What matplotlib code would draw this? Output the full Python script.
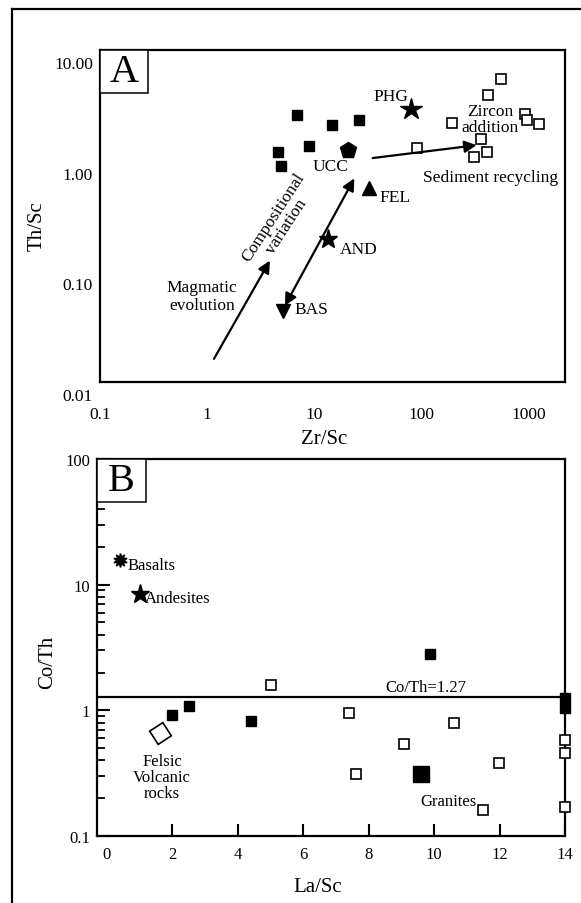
import matplotlib
matplotlib.use("Agg")
import matplotlib.pyplot as plt
import matplotlib.transforms as mtransforms
from matplotlib.lines import Line2D
from matplotlib.patches import Rectangle
from matplotlib.ticker import LogLocator, NullFormatter, FixedLocator

plt.rcParams['font.family'] = ['Liberation Serif', 'DejaVu Serif']

# ---------------- Panel A data: Th/Sc vs Zr/Sc ----------------
a_fill_x = [6.9, 14.6, 26.2, 4.6, 4.9, 9.0]
a_fill_y = [2.58, 2.10, 2.33, 1.21, 0.89, 1.35]
a_open_x = [555, 423, 192, 929, 977, 1257, 361, 91, 308, 410]
a_open_y = [5.5, 3.9, 2.17, 2.64, 2.35, 2.14, 1.57, 1.30, 1.09, 1.19]
a_ref_names = ['UCC', 'FEL', 'AND', 'BAS', 'PHG']
a_ref_x = [20.8, 32.5, 13.5, 5.1, 81]
a_ref_y = [1.26, 0.57, 0.196, 0.044, 2.92]
a_xticks = [0.1, 1, 10, 100, 1000]
a_xticklabels = ['0.1', '1', '10', '100', '1000']
a_yticks = [0.01, 0.1, 1, 10]
a_yticklabels = ['0.01', '0.10', '1.00', '10.00']

# ---------------- Panel B data: Co/Th vs La/Sc ----------------
b_fill_x = [2.0, 2.5, 4.41, 9.86, 14, 14]
b_fill_y = [0.91, 1.09, 0.82, 2.81, 1.25, 1.05]
b_open_x = [5.03, 7.41, 10.61, 9.07, 11.98, 7.60, 11.48, 14, 14, 14]
b_open_y = [1.6, 0.96, 0.79, 0.54, 0.38, 0.31, 0.16, 0.58, 0.455, 0.171]
b_ref_names = ['Basalts', 'Andesites', 'Felsic Volcanic rocks', 'Granites']
b_ref_x = [0.4, 1.0, 1.62, 9.6]
b_ref_y = [15.7, 8.4, 0.665, 0.314]
b_threshold = 1.27
b_xticks = [0, 2, 4, 6, 8, 10, 12, 14]
b_yticks = [0.1, 1, 10, 100]
b_yticklabels = ['0.1', '1', '10', '100']

W, H = 581, 904
fig = plt.figure(figsize=(W / 100, H / 100), dpi=100)


def px_axes(l, t, r, b):
    return fig.add_axes([l / W, 1 - b / H, (r - l) / W, (b - t) / H])


# outer frame (only top and left visible)
fig.add_artist(Line2D([12 / W, 1.0], [1 - 10 / H, 1 - 10 / H], color='black', lw=1.6))
fig.add_artist(Line2D([12 / W, 12 / W], [1 - 10 / H, 0.0], color='black', lw=1.6))

FS = 12.5

# ================= Panel A =================
ax = px_axes(100, 51, 565, 383)
ax.set_xscale('log')
ax.set_yscale('log')
ax.set_xlim(0.1, 2200)
ax.set_ylim(0.01, 10)
for s in ax.spines.values():
    s.set_linewidth(1.6)

ax.plot(a_fill_x, a_fill_y, 's', color='black', ms=7.5, ls='none')
ax.plot(a_open_x, a_open_y, 's', mfc='white', mec='black', mew=1.2, ms=7, ls='none')

ref_markers = {'UCC': ('p', 12), 'FEL': ('^', 10), 'AND': ('*', 14), 'BAS': ('v', 10), 'PHG': ('*', 16)}
for n, x, y in zip(a_ref_names, a_ref_x, a_ref_y):
    m, ms = ref_markers[n]
    ax.plot([x], [y], m, color='black', ms=ms, ls='none')

ax.text(14.1, 0.89, 'UCC', ha='center', va='center', fontsize=FS)
ax.text(41, 0.47, 'FEL', ha='left', va='center', fontsize=FS)
ax.text(17.4, 0.159, 'AND', ha='left', va='center', fontsize=FS)
ax.text(6.6, 0.0456, 'BAS', ha='left', va='center', fontsize=FS)
ax.text(52, 3.86, 'PHG', ha='center', va='center', fontsize=FS)

ap = dict(arrowstyle='-|>', color='black', lw=1.6, mutation_scale=18, shrinkA=0, shrinkB=0)
ax.annotate('', xy=(3.86, 0.125), xytext=(1.16, 0.0162), arrowprops=ap)
ap2 = dict(arrowstyle='<|-|>', color='black', lw=1.6, mutation_scale=18, shrinkA=0, shrinkB=0)
ax.annotate('', xy=(23.7, 0.692), xytext=(5.33, 0.0489), arrowprops=ap2)
ax.annotate('', xy=(329, 1.38), xytext=(35.2, 1.056), arrowprops=ap)

ax.text(0.895, 0.0598, 'Magmatic\nevolution', ha='center', va='center', fontsize=FS, linespacing=1.1)
ax.text(4.8, 0.284, 'Compositional\nvariation', ha='center', va='center', fontsize=FS,
        rotation=57, rotation_mode='anchor', linespacing=1.0)
ax.text(438, 2.38, 'Zircon\naddition', ha='center', va='center', fontsize=FS, linespacing=1.0)
ax.text(445, 0.711, 'Sediment recycling', ha='center', va='center', fontsize=FS)

ax.xaxis.set_major_locator(FixedLocator(a_xticks))
ax.set_xticklabels(a_xticklabels)
ax.yaxis.set_major_locator(FixedLocator(a_yticks))
ax.set_yticklabels(a_yticklabels)
ax.xaxis.set_minor_locator(FixedLocator([]))
ax.yaxis.set_minor_locator(FixedLocator([]))
ax.xaxis.set_minor_formatter(NullFormatter())
ax.yaxis.set_minor_formatter(NullFormatter())
ax.tick_params(axis='both', which='both', length=0, labelsize=FS)
ax.tick_params(axis='x', pad=17)
ax.tick_params(axis='y', pad=5)
off = mtransforms.ScaledTranslation(0, -12 / 100, fig.dpi_scale_trans)
for lab in ax.get_yticklabels():
    lab.set_transform(lab.get_transform() + off)

ax.add_patch(Rectangle((0, 1 - 43 / 332), 48 / 465, 43 / 332, transform=ax.transAxes,
                       facecolor='white', edgecolor='black', lw=1.1, zorder=5))
ax.text(24 / 465, 1 - 21.5 / 332, 'A', transform=ax.transAxes, ha='center', va='center',
        fontsize=29, zorder=6)

fig.text(324 / W, 1 - 440 / H, 'Zr/Sc', ha='center', va='center', fontsize=15)
fig.text(37 / W, 1 - 226 / H, 'Th/Sc', ha='center', va='center', fontsize=15, rotation=90)

# ================= Panel B =================
bx = px_axes(97, 460, 565, 837)
bx.set_yscale('log')
bx.set_xlim(-0.3, 14)
bx.set_ylim(0.1, 100)
for s in bx.spines.values():
    s.set_linewidth(1.6)

bx.axhline(b_threshold, color='black', lw=1.6, zorder=2)
bx.text(9.75, b_threshold * 1.04, 'Co/Th=' + str(b_threshold), ha='center', va='bottom', fontsize=12)

bx.plot(b_fill_x, b_fill_y, 's', color='black', ms=7.5, ls='none', clip_on=False, zorder=4)
bx.plot(b_open_x, b_open_y, 's', mfc='white', mec='black', mew=1.2, ms=7, ls='none',
        clip_on=False, zorder=4)

bx.plot([b_ref_x[0]], [b_ref_y[0]], marker=(10, 1, 0), color='black', ms=10, ls='none')
bx.plot([b_ref_x[1]], [b_ref_y[1]], '*', color='black', ms=14, ls='none')
bx.plot([b_ref_x[2]], [b_ref_y[2]], marker=(4, 0, -12), mfc='white', mec='black', mew=1.2,
        ms=16, ls='none')
bx.plot([b_ref_x[3]], [b_ref_y[3]], 's', color='black', ms=12, ls='none')

bx.text(0.62, 14.3, 'Basalts', ha='left', va='center', fontsize=12)
bx.text(1.16, 7.8, 'Andesites', ha='left', va='center', fontsize=12)
bx.text(1.69, 0.293, 'Felsic\nVolcanic\nrocks', ha='center', va='center', fontsize=12, linespacing=1.0)
bx.text(10.44, 0.189, 'Granites', ha='center', va='center', fontsize=12)

bx.xaxis.set_major_locator(FixedLocator(b_xticks))
bx.yaxis.set_major_locator(FixedLocator(b_yticks))
bx.set_yticklabels(b_yticklabels)
bx.yaxis.set_minor_locator(LogLocator(base=10, subs=[2, 3, 4, 5, 6, 7, 8, 9]))
bx.yaxis.set_minor_formatter(NullFormatter())
bx.tick_params(axis='both', which='major', direction='in', length=9, width=1.5, labelsize=12)
bx.tick_params(axis='y', which='minor', direction='in', length=6, width=1.3)
bx.tick_params(axis='x', pad=7)
bx.tick_params(axis='y', pad=5)
bx.tick_params(top=False, right=False)
# the reference shows no tick mark at La/Sc = 0
bx.xaxis.get_major_ticks()[0].tick1line.set_visible(False)

bx.add_patch(Rectangle((0, 1 - 42.7 / 377), 48.7 / 468, 42.7 / 377, transform=bx.transAxes,
                       facecolor='white', edgecolor='black', lw=1.1, zorder=5))
bx.text(24.3 / 468, 1 - 21.3 / 377, 'B', transform=bx.transAxes, ha='center', va='center',
        fontsize=29, zorder=6)

fig.text(318 / W, 1 - 888 / H, 'La/Sc', ha='center', va='center', fontsize=15)
fig.text(48 / W, 1 - 662 / H, 'Co/Th', ha='center', va='center', fontsize=15, rotation=90)

fig.savefig('out.png', dpi=100)
